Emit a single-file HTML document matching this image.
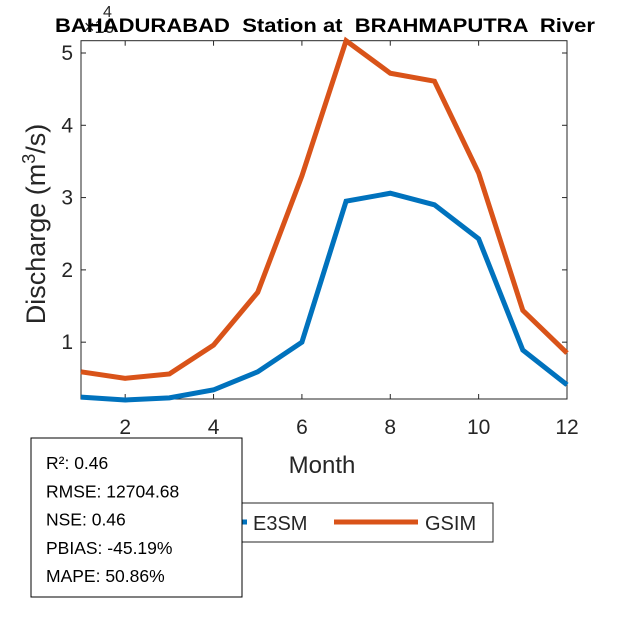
<!DOCTYPE html>
<html><head><meta charset="utf-8"><style>
body{margin:0;background:#fff;font-family:"Liberation Sans",Arial,sans-serif}
svg text{font-family:"Liberation Sans",Arial,sans-serif;fill:#262626}
</style></head><body>
<svg width="625" height="625" viewBox="0 0 625 625">
<rect width="625" height="625" fill="#fff"/>
<g id="plot"></g>
</svg>
<script>
const months=[1,2,3,4,5,6,7,8,9,10,11,12];
const e3sm=[0.24,0.20,0.23,0.34,0.59,1.0,2.95,3.06,2.90,2.43,0.89,0.41];
const gsim=[0.59,0.50,0.56,0.96,1.69,3.30,5.17,4.72,4.61,3.34,1.44,0.85];
const xTicks=[2,4,6,8,10,12];
const yTicks=[1,2,3,4,5];
const L=81,R=567,T=40.7,B=399,ymin=0.214,ymax=5.17;
const sx=v=>L+(v-1)/(12-1)*(R-L);
const sy=v=>B-(v-ymin)/(ymax-ymin)*(B-T);
const NS='http://www.w3.org/2000/svg';
const svg=document.querySelector('svg');
function mk(t,a,txt){const e=document.createElementNS(NS,t);for(const k in a)e.setAttribute(k,a[k]);if(txt!==undefined)e.textContent=txt;svg.appendChild(e);return e;}
let e=mk('rect',{x:L,y:T,width:R-L,height:B-T,fill:'#fff',stroke:'#262626','stroke-width':1});


xTicks.forEach(v=>{
 mk('line',{x1:sx(v),x2:sx(v),y1:B,y2:B-5,stroke:'#262626'});
 mk('line',{x1:sx(v),x2:sx(v),y1:T,y2:T+5,stroke:'#262626'});
 const t=mk('text',{x:sx(v),y:434,'font-size':21,'text-anchor':'middle'},String(v));
 
 
});
yTicks.forEach(v=>{
 mk('line',{x1:L,x2:L+5,y1:sy(v),y2:sy(v),stroke:'#262626'});
 mk('line',{x1:R,x2:R-5,y1:sy(v),y2:sy(v),stroke:'#262626'});
 const t=mk('text',{x:L-8,y:sy(v)+7,'font-size':21,'text-anchor':'end'},String(v));
 
 
});
function line(d,c,n){const p=mk('polyline',{points:months.map((m,i)=>sx(m)+','+sy(d[i])).join(' '),fill:'none',stroke:c,'stroke-width':5,'stroke-linejoin':'miter'});
 
 }
line(gsim,'#D95319','gsim-line');
line(e3sm,'#0072BD','e3sm-line');
let t=mk('text',{x:84,y:33,'font-size':18},'×10');


t=mk('text',{x:103,y:17,'font-size':16},'4');
t=mk('text',{x:325,y:32,'font-size':19.5,'font-weight':'bold','text-anchor':'middle',textLength:540,lengthAdjust:'spacingAndGlyphs'},'BAHADURABAD  Station at  BRAHMAPUTRA  River');
t.style.fill='#000';t.style.whiteSpace='pre';


t=mk('text',{x:322,y:473,'font-size':24,'text-anchor':'middle'},'Month');


t=mk('text',{x:0,y:0,'font-size':27,'text-anchor':'middle',transform:'translate(45,224) rotate(-90)'});
t.innerHTML='Discharge (m<tspan dy="-10" font-size="18">3</tspan><tspan dy="10">/s)</tspan>';


e=mk('rect',{x:195,y:503,width:298,height:39,fill:'#fff',stroke:'#262626'});


mk('line',{x1:205,x2:247,y1:522,y2:522,stroke:'#0072BD','stroke-width':5});
t=mk('text',{x:253,y:530,'font-size':20},'E3SM');


mk('line',{x1:334,x2:418,y1:522,y2:522,stroke:'#D95319','stroke-width':5});
t=mk('text',{x:425,y:530,'font-size':20},'GSIM');


e=mk('rect',{x:31,y:438,width:211,height:159,fill:'#fff',stroke:'#000'});


const stats=['R²: 0.46','RMSE: 12704.68','NSE: 0.46','PBIAS: -45.19%','MAPE: 50.86%'];
stats.forEach((s,i)=>{const x=mk('text',{x:46,y:469+i*28.3,'font-size':17.5},s);x.style.fill='#000';
 
 });
</script>
</body></html>
